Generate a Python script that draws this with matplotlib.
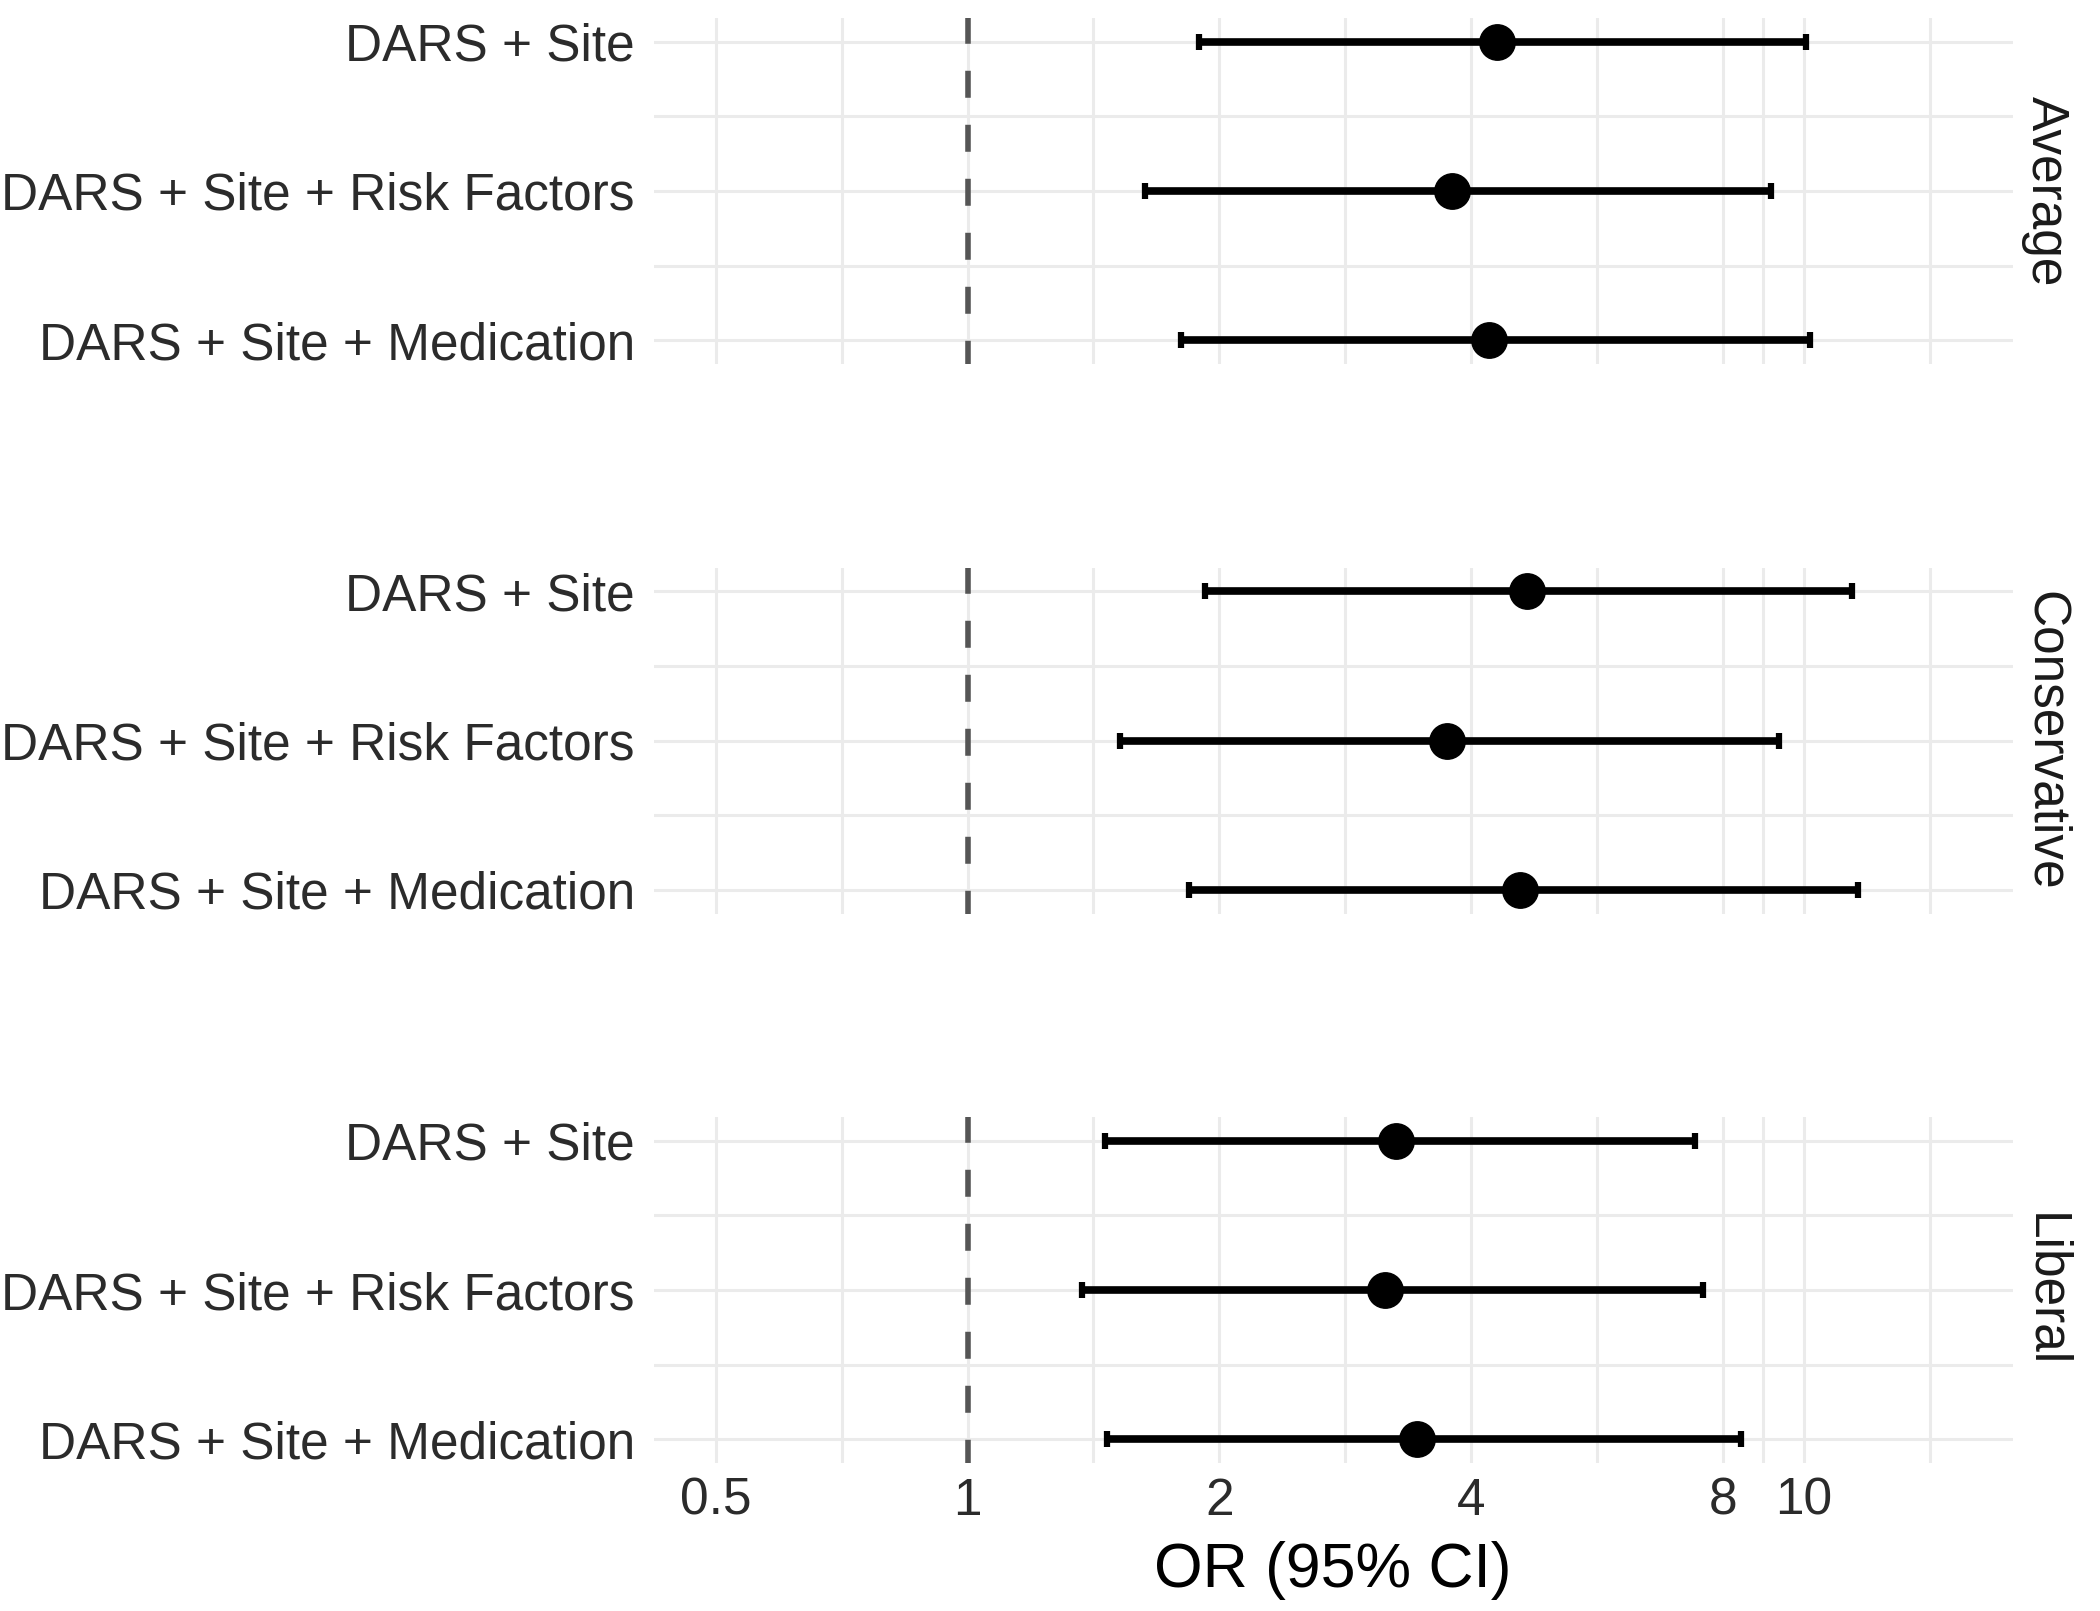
import matplotlib
matplotlib.use('Agg')
import matplotlib.pyplot as plt
from matplotlib.ticker import NullFormatter
import numpy as np

# models (rows, top to bottom) and outcome definitions (panels)
models = ['DARS + Site', 'DARS + Site + Risk Factors', 'DARS + Site + Medication']
definitions = ['Average', 'Conservative', 'Liberal']

# odds ratios with 95% CI
avg_or = [4.30, 3.80, 4.20]
avg_lo = [1.89, 1.63, 1.80]
avg_hi = [10.07, 9.14, 10.18]

cons_or = [4.66, 3.74, 4.57]
cons_lo = [1.92, 1.52, 1.84]
cons_hi = [11.42, 9.33, 11.60]

lib_or = [3.25, 3.16, 3.45]
lib_lo = [1.46, 1.37, 1.47]
lib_hi = [7.41, 7.58, 8.42]

x_breaks = [0.5, 1, 2, 4, 8, 10]
x_labels = ['0.5', '1', '2', '4', '8', '10']
x_limits = [0.5, 15]

plt.rcParams['font.family'] = ['Liberation Sans', 'DejaVu Sans']

W, H = 2100, 1611
fig = plt.figure(figsize=(W / 100, H / 100), dpi=100)

panels = [
    (definitions[0], avg_or, avg_lo, avg_hi),
    (definitions[1], cons_or, cons_lo, cons_hi),
    (definitions[2], lib_or, lib_lo, lib_hi),
]

# minor breaks halfway between majors on the log scale (ggplot style)
ext = list(x_breaks) + [x_breaks[-1] * x_breaks[1] / x_breaks[0]]
minor_breaks = [np.sqrt(a * b) for a, b in zip(ext[:-1], ext[1:])]

lo_log, hi_log = np.log10(x_limits)
pad = 0.05 * (hi_log - lo_log)

for i, (name, est, lo, hi) in enumerate(panels):
    top = 18 + i * 549.5
    ax = fig.add_axes([654 / W, 1 - (top + 346) / H, 1359 / W, 346 / H])
    est = np.array(est)
    y = np.arange(1, len(models) + 1)

    ax.set_xscale('log')
    ax.set_xlim(10 ** (lo_log - pad), 10 ** (hi_log + pad))
    ax.set_ylim(3.16, 0.84)
    ax.set_xticks(x_breaks)
    ax.set_xticks(minor_breaks, minor=True)
    ax.xaxis.set_minor_formatter(NullFormatter())
    ax.set_yticks(y)
    ax.set_yticks([1.5, 2.5], minor=True)
    ax.set_yticklabels(models)

    ax.grid(which='both', color='#EBEBEB', linewidth=2.2)
    ax.set_axisbelow(True)
    for s in ax.spines.values():
        s.set_visible(False)

    ax.axvline(1, color='#555555', linewidth=4, linestyle=(10.4, (4.86, 4.86)), zorder=2)
    ax.errorbar(est, y, xerr=[est - np.array(lo), np.array(hi) - est], fmt='none',
                ecolor='black', elinewidth=5.5, capsize=5.8, capthick=4.5, zorder=3)
    ax.plot(est, y, 'o', color='black', markersize=25.5, zorder=4)

    ax.tick_params(which='both', length=0)
    ax.tick_params(axis='y', pad=13.7, labelsize=37, labelcolor='#2B2B2B')
    if i < len(panels) - 1:
        ax.tick_params(axis='x', labelbottom=False)
    else:
        ax.set_xticklabels(x_labels)
        ax.tick_params(axis='x', pad=10, labelsize=37, labelcolor='#2B2B2B')

    ax.text(1.0235, 0.5, name, transform=ax.transAxes, rotation=-90,
            ha='center', va='center', fontsize=37, color='#1A1A1A')

fig.text(1333 / W, 1 - 1587 / H, 'OR (95% CI)', ha='center', va='baseline', fontsize=45)

fig.savefig('out.png', dpi=100, facecolor='white')
